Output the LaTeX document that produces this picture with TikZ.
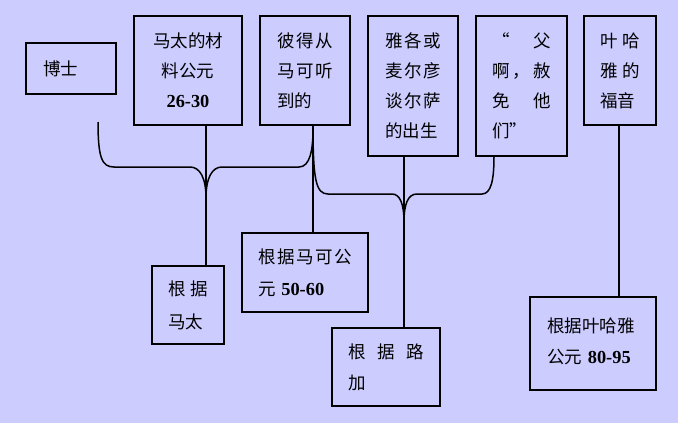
\documentclass[tikz,border=0pt]{standalone}
\usepackage{fontspec}
\setmainfont{Noto Sans CJK SC}
\newfontfamily\latfont[Scale=1.05]{Liberation Serif}
\newcommand{\nm}[1]{{\latfont\bfseries #1}}
\definecolor{bgcol}{RGB}{204,204,255}
\tikzset{
  box/.style={draw=black, line width=2pt, rectangle, inner ysep=0pt,
    font=\fontsize{17.5pt}{30pt}\selectfont, align=left},
  conn/.style={draw=black, line width=1.5pt}
}
\begin{document}
\begin{tikzpicture}[x=1pt,y=-1pt]
\fill[bgcol] (0,0) rectangle (678,423);
\useasboundingbox (0,0) rectangle (678,423);
% top row
\node[box, inner xsep=17pt, text width=56pt, minimum height=51pt] (boshi) at (71,68.5) {博士};
\node[box, inner xsep=14pt, text width=80pt, minimum height=109pt, align=center] (mt) at (188,70.5)
  {马太的材\\料公元\\\nm{26-30}};
\node[box, inner xsep=17pt, text width=56pt, minimum height=109pt] (mk) at (305,70.5)
  {彼\hfill 得\hfill 从\\马\hfill 可\hfill 听\\到的};
\node[box, inner xsep=17pt, text width=56pt, minimum height=140pt] (yg) at (413,86)
  {雅\hfill 各\hfill 或\\麦\hfill 尔\hfill 彦\\谈\hfill 尔\hfill 萨\\的出生};
\node[box, inner xsep=16pt, text width=59pt, minimum height=140pt] (fu) at (521.5,86)
  {“\hfill 父\\啊\hfill ，\hfill 赦\\免\hfill 他\\们”};
\node[box, inner xsep=16pt, text width=40pt, minimum height=109pt] (yh) at (620,70.5)
  {叶\hfill 哈\\雅\hfill 的\\福音};
% bottom row
\node[box, inner xsep=16pt, text width=40pt, minimum height=78pt,
  font=\fontsize{17.5pt}{33pt}\selectfont] (gm) at (188,305)
  {根\hfill 据\\马太};
\node[box, inner xsep=16pt, text width=94pt, minimum height=79pt,
  font=\fontsize{17.5pt}{32pt}\selectfont] (gk) at (305,272.5)
  {根\hfill 据\hfill 马\hfill 可\hfill 公\\元 \nm{50-60}};
\node[box, inner xsep=16pt, text width=76pt, minimum height=78pt,
  font=\fontsize{17.5pt}{31pt}\selectfont] (gl) at (386,367)
  {根\hfill 据\hfill 路\\加};
\node[box, inner xsep=17pt, text width=92pt, minimum height=93pt,
  font=\fontsize{17.5pt}{31pt}\selectfont, text depth=36pt] (gy) at (593,343.5)
  {根据叶哈雅\\公元 \nm{80-95}};
% connector points
\coordinate (b1L) at (98,122);
\coordinate (m1) at (206,198);
\coordinate (m2) at (404,222);
% vertical lines
\draw[conn] ([xshift=18pt]mt.south) -- ([xshift=18pt]gm.north);
\draw[conn] ([xshift=8pt]mk.south) -- ([xshift=8pt]gk.north);
\draw[conn] ([xshift=-9pt]yg.south) -- ([xshift=18pt]gl.north);
\draw[conn] ([xshift=-1pt]yh.south) -- ([xshift=26pt]gy.north);
% bracket 1
\draw[conn] (b1L) .. controls (98,158) and (102,167) .. (114,167) -- (190,167)
  .. controls (200,167) and (206,178) .. (m1);
\draw[conn] (m1) .. controls (206,178) and (212,167) .. (222,167) -- (299,167)
  .. controls (310,167) and (313,150) .. ([xshift=8pt,yshift=-3pt]mk.south);
% bracket 2
\draw[conn] ([xshift=8pt]mk.south) .. controls (313,180) and (316,194) .. (328,194) -- (392,194)
  .. controls (400,194) and (404,204) .. (m2);
\draw[conn] (m2) .. controls (404,204) and (408,194) .. (417,194) -- (482,194)
  .. controls (491,194) and (494,180) .. ([xshift=-27.5pt]fu.south);
\end{tikzpicture}
\end{document}
